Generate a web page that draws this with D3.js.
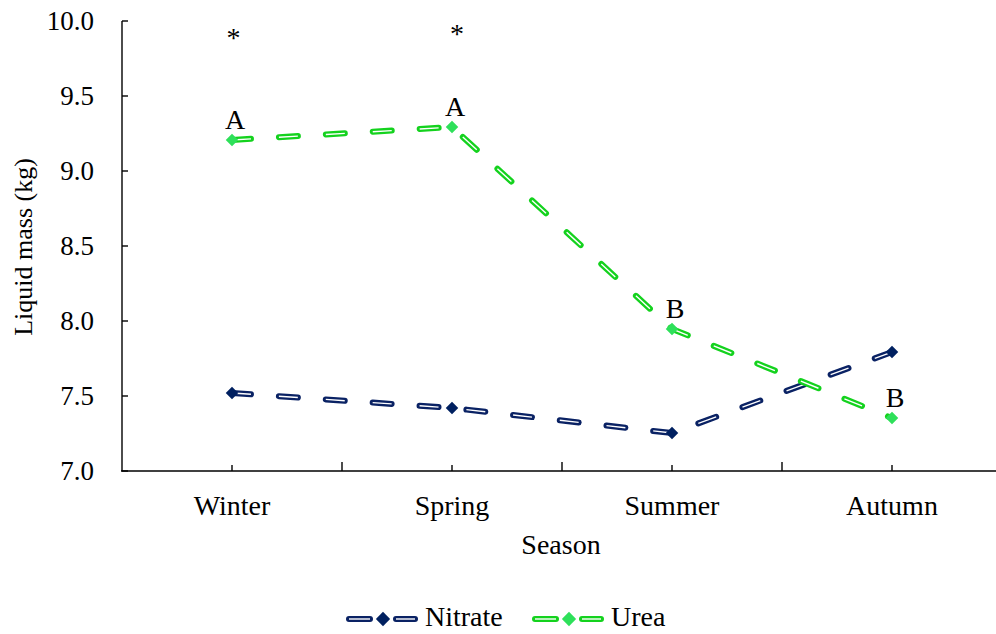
<!DOCTYPE html>
<html><head><meta charset="utf-8">
<script src="https://cdn.jsdelivr.net/npm/d3@7"></script>
<style>body{margin:0;background:#fff}svg{display:block}</style>
</head><body>
<svg id="c" width="996" height="634"></svg>
<script>
const seasons = ["Winter","Spring","Summer","Autumn"];
const nitrate = [7.52, 7.42, 7.253, 7.793];
const urea = [9.207, 9.293, 7.947, 7.353];
const ureaLetters = ["A","A","B","B"];
const stars = ["*","*","",""];
const yTicks = [7.0, 7.5, 8.0, 8.5, 9.0, 9.5, 10.0];
const seriesNames = ["Nitrate","Urea"];
const colors = ["#0A2264","#14D21E"];
const markerColors = ["#002060","#2EE05A"];

const svg = d3.select("#c");
const font = "'Liberation Serif','Times New Roman',serif";
const x = d3.scaleBand().domain(seasons).range([122,1002]).paddingInner(0).paddingOuter(0);
const y = d3.scaleLinear().domain([7,10]).range([471,21]);
const cx = d => x(d) + x.bandwidth()/2;

// Y axis
svg.append("line").attr("x1",122).attr("x2",122).attr("y1",y(10)).attr("y2",y(7)).attr("stroke","#000").attr("stroke-width",1.4);
yTicks.forEach(t=>{
  svg.append("line").attr("x1",122).attr("x2",128).attr("y1",y(t)).attr("y2",y(t)).attr("stroke","#000").attr("stroke-width",1.4);
  svg.append("text").attr("x",94).attr("y",y(t)).attr("dy","0.33em").attr("text-anchor","end")
    .attr("font-family",font).attr("font-size",27).text(t.toFixed(1));
});
// X axis
svg.append("line").attr("x1",121).attr("x2",1002).attr("y1",471).attr("y2",471).attr("stroke","#000").attr("stroke-width",1.4);
seasons.forEach((s,i)=>{
  svg.append("line").attr("x1",cx(s)).attr("x2",cx(s)).attr("y1",471).attr("y2",465).attr("stroke","#000").attr("stroke-width",1.4);
  if(i>0) svg.append("line").attr("x1",x(s)).attr("x2",x(s)).attr("y1",471).attr("y2",462).attr("stroke","#000").attr("stroke-width",1.4);
  svg.append("text").attr("x",cx(s)).attr("y",515).attr("text-anchor","middle")
    .attr("font-family",font).attr("font-size",28).text(s);
});
svg.append("text").attr("x",561).attr("y",554).attr("text-anchor","middle").attr("font-family",font).attr("font-size",28).text("Season");
svg.append("text").attr("transform","translate(32,247) rotate(-90)").attr("text-anchor","middle").attr("font-family",font).attr("font-size",26).text("Liquid mass (kg)");

// Lines
const line = d3.line().x((d,i)=>cx(seasons[i])).y(d=>y(d));
const dash = "19,28";
[nitrate, urea].forEach((vals,k)=>{
  svg.append("path").attr("d",line(vals)).attr("fill","none").attr("stroke",colors[k]).attr("stroke-width",6)
    .attr("stroke-linecap","round").attr("stroke-dasharray",dash);
  svg.append("path").attr("d",line(vals)).attr("fill","none").attr("stroke","#fff").attr("stroke-width",1.4)
    .attr("stroke-dasharray",dash);
  const sym = d3.symbol().type(d3.symbolDiamond2).size(100);
  vals.forEach((v,i)=>{
    svg.append("path").attr("d",sym()).attr("transform",`translate(${cx(seasons[i])},${y(v)})`).attr("fill",markerColors[k]);
  });
});

// Letters
urea.forEach((v,i)=>{
  svg.append("text").attr("x",cx(seasons[i])+3).attr("y",y(v)-11).attr("text-anchor","middle")
    .attr("font-family",font).attr("font-size",28).text(ureaLetters[i]);
});
stars.forEach((s,i)=>{
  if(!s) return;
  svg.append("text").attr("x",cx(seasons[i])+ (i===1?5:1.5)).attr("y",i===1?43:47).attr("text-anchor","middle")
    .attr("font-family",font).attr("font-size",28).text(s);
});

// Legend
const lg = [{x:346},{x:532}];
seriesNames.forEach((n,k)=>{
  const g = svg.append("g").attr("transform",`translate(${lg[k].x},619)`);
  [[0,27],[47,72]].forEach(([a,b])=>{
    g.append("line").attr("x1",a+3).attr("x2",b-3).attr("y1",0).attr("y2",0).attr("stroke",colors[k]).attr("stroke-width",6).attr("stroke-linecap","round");
    g.append("line").attr("x1",a+3).attr("x2",b-3).attr("y1",0).attr("y2",0).attr("stroke","#fff").attr("stroke-width",1.4);
  });
  g.append("path").attr("d",d3.symbol().type(d3.symbolDiamond2).size(130)()).attr("transform","translate(37,0)").attr("fill",markerColors[k]);
  g.append("text").attr("x",79).attr("y",7).attr("font-family",font).attr("font-size",28).text(n);
});
</script>
</body></html>
